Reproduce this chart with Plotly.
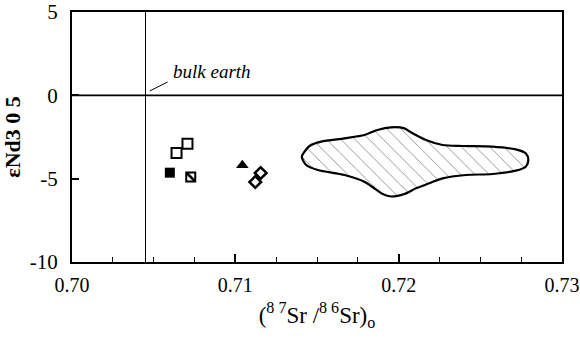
import plotly.graph_objects as go

# Data
filled_sq_x = [0.70599]
filled_sq_y = [-4.64]
open_sq_x = [0.70640, 0.70707]
open_sq_y = [-3.46, -2.90]
hatch_sq_x = [0.70727]
hatch_sq_y = [-4.90]
tri_x = [0.71043]
tri_y = [-4.20]
dia_x = [0.71155, 0.71122]
dia_y = [-4.66, -5.20]

field_x = [0.71407, 0.71424, 0.71454, 0.71526, 0.71668, 0.71790, 0.71870, 0.71953,
           0.72035, 0.72077, 0.72167, 0.72269, 0.72391, 0.72574, 0.72717, 0.72778,
           0.72794, 0.72778, 0.72717, 0.72574, 0.72412, 0.72269, 0.72187, 0.72106,
           0.72035, 0.71953, 0.71902, 0.71851, 0.71790, 0.71668, 0.71505, 0.71434,
           0.71407]
field_y = [-3.68, -3.38, -3.04, -2.78, -2.58, -2.38, -2.08, -1.92,
           -1.98, -2.23, -2.68, -2.98, -3.04, -3.08, -3.24, -3.48,
           -3.88, -4.28, -4.52, -4.72, -4.78, -4.98, -5.28, -5.58,
           -5.92, -6.07, -5.92, -5.58, -5.18, -4.78, -4.48, -4.18,
           -3.68]

bulk_earth_sr = 0.7045
bulk_earth_nd = 0.0

x_ticks = [0.70, 0.71, 0.72, 0.73]
y_ticks = [5, 0, -5, -10]

SERIF = "Liberation Serif, Times New Roman, serif"

fig = go.Figure()

fig.add_trace(go.Scatter(
    x=field_x, y=field_y, mode="lines", fill="toself",
    line=dict(color="black", width=2.2, shape="spline", smoothing=0.8),
    fillcolor="white",
    fillpattern=dict(shape="\\", fgcolor="black", bgcolor="white", size=10, solidity=0.08),
    hoverinfo="skip"))

fig.add_trace(go.Scatter(x=filled_sq_x, y=filled_sq_y, mode="markers",
                         marker=dict(symbol="square", size=10, color="black")))
fig.add_trace(go.Scatter(x=open_sq_x, y=open_sq_y, mode="markers",
                         marker=dict(symbol="square-open", size=10, color="black",
                                     line=dict(width=2, color="black"))))
fig.add_trace(go.Scatter(x=hatch_sq_x, y=hatch_sq_y, mode="markers",
                         marker=dict(symbol="square-open", size=9, color="black",
                                     line=dict(width=2, color="black"))))
fig.add_trace(go.Scatter(x=hatch_sq_x, y=hatch_sq_y, mode="markers",
                         marker=dict(symbol="line-nw", size=8, color="black",
                                     line=dict(width=2.5, color="black"))))
fig.add_trace(go.Scatter(x=tri_x, y=tri_y, mode="markers",
                         marker=dict(symbol="triangle-up", size=11, color="black")))
fig.add_trace(go.Scatter(x=dia_x, y=dia_y, mode="markers",
                         marker=dict(symbol="diamond-open", size=9, color="black",
                                     line=dict(width=2.5, color="black"))))

# reference lines
fig.add_shape(type="line", x0=0.70, x1=0.73, y0=bulk_earth_nd, y1=bulk_earth_nd,
              line=dict(color="black", width=1.8), layer="below")
fig.add_shape(type="line", x0=bulk_earth_sr, x1=bulk_earth_sr, y0=-10, y1=5,
              line=dict(color="black", width=1), layer="below")
fig.add_shape(type="line", x0=0.70476, x1=0.70585, y0=0.26, y1=0.80,
              line=dict(color="black", width=1))
fig.add_annotation(x=0.70606, y=1.45, text="<i>bulk earth</i>", showarrow=False,
                   xanchor="left", yanchor="middle",
                   font=dict(family=SERIF, size=19, color="black"))

fig.update_layout(
    width=580, height=339,
    margin=dict(l=72, r=18, t=12, b=77),
    paper_bgcolor="white", plot_bgcolor="white",
    showlegend=False,
    font=dict(family=SERIF, size=21, color="black"),
    xaxis=dict(range=[0.70, 0.73], tickvals=x_ticks, ticktext=["%.2f" % v for v in x_ticks],
               ticks="inside", ticklen=8, tickwidth=1.5, tickcolor="black",
               minor=dict(dtick=0.0025, tick0=0.70, ticks="inside", ticklen=5,
                          tickwidth=1, tickcolor="black"),
               showgrid=False, zeroline=False, automargin=False,
               ticklabelstandoff=4, ticklabeloverflow="allow",
               showline=True, linecolor="black", linewidth=2, mirror=True,
               tickfont=dict(size=20),
               title=dict(text="(<sup>8 7</sup>Sr /<sup>8 6</sup>Sr)<sub>o</sub>",
                          font=dict(size=23), standoff=12)),
    yaxis=dict(range=[-10, 5], tickvals=y_ticks, ticktext=[str(v) for v in y_ticks],
               ticks="inside", ticklen=7, tickwidth=1.5, tickcolor="black",
               showgrid=False, zeroline=False, automargin=False,
               ticklabelstandoff=8, ticklabeloverflow="allow",
               showline=True, linecolor="black", linewidth=2, mirror=True,
               tickfont=dict(size=21),
               title=dict(text="<b>ε</b><b>Nd3 0 5</b>", font=dict(size=22), standoff=16)),
)

fig.write_html("out.html")
